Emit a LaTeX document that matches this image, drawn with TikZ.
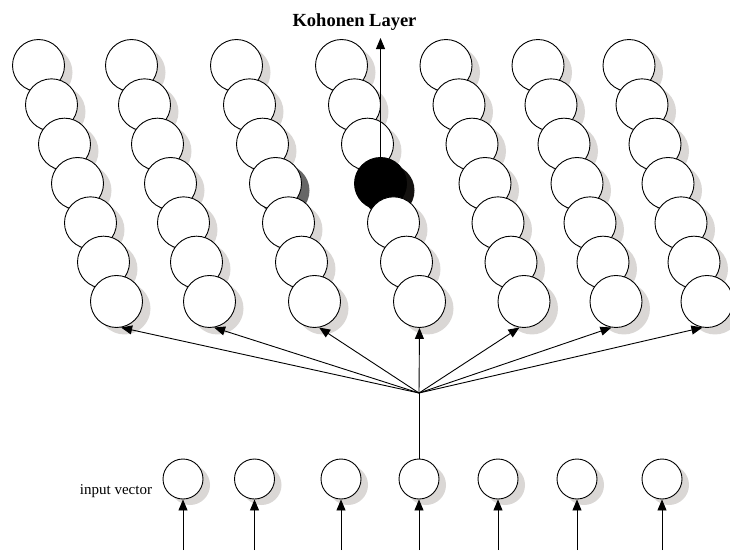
\documentclass[tikz,border=0pt]{standalone}
\usepackage{fontspec}
\setmainfont{Liberation Serif}
\usetikzlibrary{arrows.meta,calc}
\definecolor{shadowgray}{HTML}{DAD7D5}
\definecolor{darkshadow}{HTML}{666666}
\definecolor{blackshadow}{HTML}{141210}
\begin{document}
\begin{tikzpicture}[x=1pt,y=-1pt,
  kcircle/.style={circle,draw,fill=white,minimum size=52pt,inner sep=0pt,line width=0.9pt},
  icircle/.style={circle,draw,fill=white,minimum size=40pt,inner sep=0pt,line width=0.9pt},
  conn/.style={line width=0.9pt,-{Triangle[length=11pt,width=9pt]}},
  plain/.style={line width=0.9pt}]
\useasboundingbox (0,0) rectangle (730,550);
% Kohonen layer
\foreach \c/\x in {1/38.5,2/131.5,3/236.5,4/341.5,5/446,6/538,7/629}{
  \foreach \r in {1,...,7}{
    \pgfmathsetmacro\cx{\x+13*(\r-1)}
    \pgfmathsetmacro\cy{65.5+39.33*(\r-1)}
    \def\sh{shadowgray}\def\fc{white}
    \ifnum\c=3 \ifnum\r=4 \def\sh{darkshadow}\fi\fi
    \ifnum\c=4 \ifnum\r=4 \def\sh{blackshadow}\def\fc{black}\fi\fi
    \fill[\sh] (\cx+8,\cy+7) circle[radius=26pt];
    \node[kcircle,fill=\fc] (k\c-\r) at (\cx,\cy) {};
  }
}
% input layer
\foreach \i/\x in {1/183,2/254.5,3/341,4/419,5/498,6/577,7/662}{
  \fill[shadowgray] (\x+7,485) circle[radius=20pt];
  \node[icircle] (in\i) at (\x,479) {};
  \coordinate (b\i) at (\x,550);
  \draw[conn] (b\i) -- (in\i.south);
}
\coordinate (hub) at (419,393);
\draw[plain] (in4.north) -- (hub);
\foreach \c/\a in {1/-80,2/-80,3/-80,5/-100,6/-100,7/-100}
  \draw[conn] (hub) -- (k\c-7.\a);
\draw[conn] (hub) -- (k4-7.south);
% output arrow
\coordinate (top) at (380.5,38);
\draw[conn] (k4-4.north) -- (top);
% labels
\node[font=\bfseries\fontsize{18.5}{20}\selectfont, anchor=base] (title) at (354.5,26) {Kohonen Layer};
\node[font=\fontsize{15}{17}\selectfont] (inlabel) at (116,491) {input vector};
\end{tikzpicture}
\end{document}
